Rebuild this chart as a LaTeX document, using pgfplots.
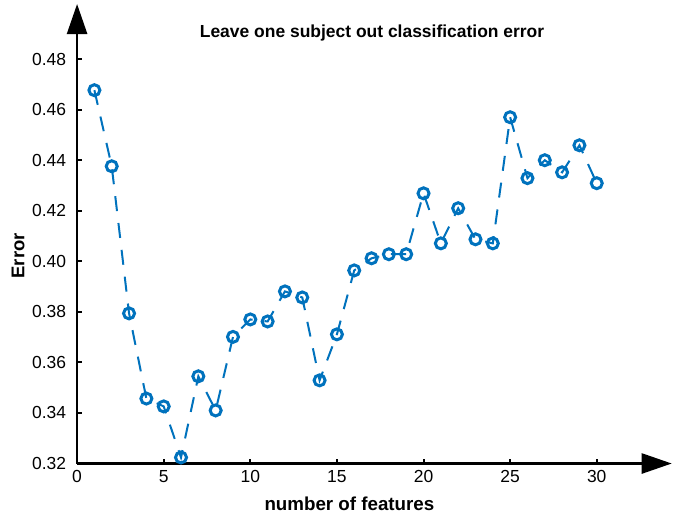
\documentclass[border=0pt]{standalone}
\usepackage{fontspec}
\setmainfont{Liberation Sans}
\usepackage{pgfplots}
\pgfplotsset{compat=1.18}
\usetikzlibrary{arrows.meta}
\definecolor{mblue}{RGB}{0,114,189}
\begin{document}
\fontsize{17.5}{21}\selectfont
\begin{tikzpicture}
\begin{axis}[
  scale only axis,
  width=594bp, height=459bp,
  xmin=0, xmax=34.33,
  ymin=0.32, ymax=0.5018,
  axis lines=left,
  axis line style={line width=2.5bp, -{Triangle[length=30bp,width=20bp]}},
  xtick={0,5,...,30},
  ytick={0.32,0.34,...,0.48},
  yticklabel style={xshift=-5bp, /pgf/number format/fixed, /pgf/number format/fixed zerofill, /pgf/number format/precision=2},
  /pgf/number format/assume math mode=true,
  tick align=inside,
  major tick length=5bp,
  tick style={line width=2bp, black},
  xticklabel style={yshift=-1bp},
  title={Leave one subject out classification error},
  title style={at={(axis description cs:0.496,0.913)}, anchor=base, font=\bfseries},
  xlabel={number of features},
  xlabel style={at={(axis description cs:0.458,-0.1025)}, anchor=base, inner sep=1bp, font=\fontsize{18.8}{22}\selectfont\bfseries},
  ylabel={Error},
  ylabel style={at={(axis description cs:-0.0993,0.452)}, anchor=center, font=\fontsize{18.5}{22}\selectfont\bfseries},
  clip=false,
]
\addplot[mblue, line width=2bp, dash pattern=on 15bp off 12bp,
  mark=o, mark size=5.5bp, mark options={solid, line width=3bp}]
coordinates {
(1,0.4677) (2,0.4376) (3,0.3794) (4,0.3457) (5,0.3426) (6,0.3224)
(7,0.3545) (8,0.3410) (9,0.3701) (10,0.3770) (11,0.3762) (12,0.3881)
(13,0.3857) (14,0.3529) (15,0.3711) (16,0.3964) (17,0.4012) (18,0.4028)
(19,0.4028) (20,0.4269) (21,0.4071) (22,0.4210) (23,0.4087) (24,0.4071)
(25,0.4570) (26,0.4329) (27,0.4400) (28,0.4352) (29,0.4459) (30,0.4309)
};
\coordinate (O) at (axis description cs:0,0);
\end{axis}
\path ([shift={(-77bp,-51bp)}]O);
\path ([shift={(0bp,463bp)}]O);
\end{tikzpicture}
\end{document}
